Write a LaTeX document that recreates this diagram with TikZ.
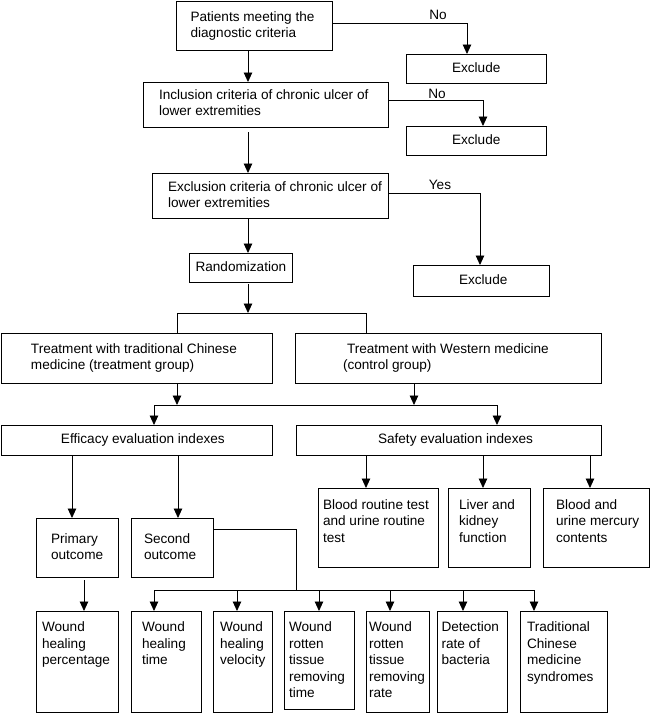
\documentclass[tikz,border=0pt]{standalone}
\usepackage{fontspec}
\setmainfont{Liberation Sans}
\usetikzlibrary{arrows.meta}
\newcommand\fs{\fontsize{13.6}{16.5}\selectfont}
% name x1 y1 x2 y2 leftoffset firstbaseline text
\newcommand\bx[8]{%
  \node[flowbox, minimum width={(#4-#2)*1pt}, minimum height={(#5-#3)*1pt}] (#1) at ({(#2+#4)/2},{(#3+#5)/2})
  {\parbox[c][\dimexpr#5pt-#3pt\relax][t]{\dimexpr#4pt-#2pt\relax}{\hspace*{#6pt}\begin{tabular}[t]{@{}l@{}}\rule{0pt}{#7pt}#8\end{tabular}}};}
\begin{document}
\begin{tikzpicture}[x=1pt,y=-1pt,
  flowbox/.style={draw, line width=0.9pt, inner sep=0pt, outer sep=0pt, font=\fs},
  ln/.style={line width=0.9pt},
  arr/.style={line width=0.9pt, -{Triangle[length=9.5pt,width=8.5pt]}},
  arrb/.style={line width=0.9pt, {Triangle[length=9.5pt,width=8.5pt]}-{Triangle[length=9.5pt,width=8.5pt]}},
  lbl/.style={font=\fs, inner sep=0pt, anchor=base}]
\useasboundingbox (0,0) rectangle (650,713);
% boxes
\bx{p}{176}{1}{332}{50}{14.5}{20}{Patients meeting the\\diagnostic criteria}
\bx{e1}{406}{54}{546}{83}{46}{18}{Exclude}
\bx{inc}{143}{82}{388}{127}{16}{17}{Inclusion criteria of chronic ulcer of\\lower extremities}
\bx{e2}{406}{126}{546}{155}{46}{18}{Exclude}
\bx{exc}{152}{173}{388}{218}{16}{18}{Exclusion criteria of chronic ulcer of\\lower extremities}
\bx{e3}{413}{265}{549}{296}{46}{19}{Exclude}
\bx{rand}{189}{253}{292}{282}{6.5}{18}{Randomization}
\bx{tcm}{1}{333}{272}{383}{30}{20}{Treatment with traditional Chinese\\medicine (treatment group)}
\bx{wm}{295}{333}{601}{383}{48}{20}{\hspace*{4pt}Treatment with Western medicine\\(control group)}
\bx{eff}{1}{425}{272}{455}{60}{18}{Efficacy evaluation indexes}
\bx{saf}{296}{425}{601}{455}{82}{18}{Safety evaluation indexes}
\bx{prim}{36}{518}{118}{577}{15}{25}{Primary\\outcome}
\bx{sec}{131}{518}{213}{577}{13}{25}{Second\\outcome}
\bx{bl}{318}{488}{438}{567}{5}{21}{Blood routine test\\and urine routine\\test}
\bx{lk}{448}{488}{530}{567}{11}{21}{Liver and\\kidney\\function}
\bx{bu}{543}{488}{649}{567}{13}{21}{Blood and\\urine mercury\\contents}
\bx{w1}{36}{611}{118}{712}{6}{20.5}{Wound\\healing\\percentage}
\bx{w2}{131}{611}{201}{712}{11}{20.5}{Wound\\healing\\time}
\bx{w3}{213}{611}{272}{712}{7}{20.5}{Wound\\healing\\velocity}
\bx{w4}{284}{611}{354}{709}{5}{20.5}{Wound\\rotten\\tissue\\removing\\time}
\bx{w5}{366}{611}{429}{712}{3}{20.5}{Wound\\rotten\\tissue\\removing\\rate}
\bx{w6}{437}{611}{507}{712}{4.5}{20.5}{Detection\\rate of\\bacteria}
\bx{w7}{520}{611}{607}{712}{7}{20.5}{Traditional\\Chinese\\medicine\\syndromes}
% labels
\node[lbl] (no1) at (438,19) {No};
\node[lbl] (no2) at (437,98) {No};
\node[lbl] (yes) at (440,189) {Yes};
% main spine
\coordinate (v0) at (248,0);
\draw[arr] (v0 |- p.south) -- (v0 |- inc.north);
\draw[arr, shorten <=5pt] (v0 |- inc.south) -- (v0 |- exc.north);
\draw[arr] (v0 |- exc.south) -- (v0 |- rand.north);
\coordinate (j1) at (248,313);
\draw[arr, shorten <=2pt] (v0 |- rand.south) -- (j1);
% exclusions
\coordinate (c1) at (467,23);
\draw[arr] (p.east |- c1) -- (c1) -- (c1 |- e1.north);
\coordinate (c2) at (483,100);
\draw[arr] (inc.east |- c2) -- (c2) -- (c2 |- e2.north);
\coordinate (c3) at (480,193);
\draw[arr] (exc.east |- c3) -- (c3) -- (c3 |- e3.north);
% groups
\coordinate (t1) at (177,313); \coordinate (t2) at (366,313);
\draw[ln] (t1 |- tcm.north) -- (t1) -- (t2) -- (t2 |- wm.north);
\coordinate (k1) at (177,405); \coordinate (k2) at (414,405);
\draw[arr] (k1 |- tcm.south) -- (k1);
\draw[arr] (k2 |- wm.south) -- (k2);
\coordinate (j2) at (154,405); \coordinate (j3) at (497,405);
\draw[arrb] (j2 |- eff.north) -- (j2) -- (j3) -- (j3 |- saf.north);
% efficacy
\coordinate (m1) at (72,0); \coordinate (m2) at (178,0); \coordinate (m3) at (84,0);
\draw[arr] (m1 |- eff.south) -- (m1 |- prim.north);
\draw[arr] (m2 |- eff.south) -- (m2 |- sec.north);
\draw[arr, shorten <=3pt] (m3 |- prim.south) -- (m3 |- w1.north);
% safety
\coordinate (n1) at (366,0); \coordinate (n2) at (483,0); \coordinate (n3) at (590,0);
\draw[arr] (n1 |- saf.south) -- (n1 |- bl.north);
\draw[arr] (n2 |- saf.south) -- (n2 |- lk.north);
\draw[arr] (n3 |- saf.south) -- (n3 |- bu.north);
% second outcome
\coordinate (s1) at (296,529); \coordinate (s2) at (296,590);
\draw[ln] (sec.east |- s1) -- (s1) -- (s2);
\coordinate (b1) at (154,590); \coordinate (b2) at (237,590); \coordinate (b3) at (319,590);
\coordinate (b4) at (390,590); \coordinate (b5) at (463,590); \coordinate (b6) at (534,590);
\draw[ln] (b1) -- (b6);
\draw[arr] (b1) -- (b1 |- w2.north);
\draw[arr] (b2) -- (b2 |- w3.north);
\draw[arr] (b3) -- (b3 |- w4.north);
\draw[arr] (b4) -- (b4 |- w5.north);
\draw[arr] (b5) -- (b5 |- w6.north);
\draw[arr] (b6) -- (b6 |- w7.north);
\end{tikzpicture}
\end{document}
